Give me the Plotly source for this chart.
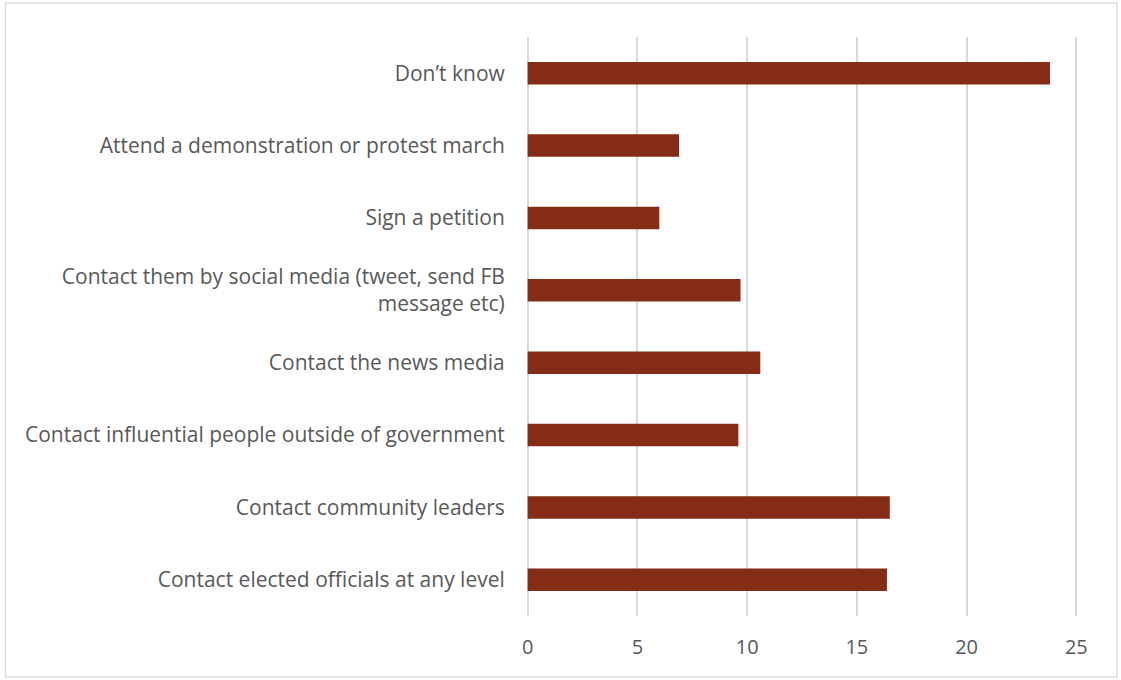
import plotly.graph_objects as go

categories = [
    "Contact elected officials at any level",
    "Contact community leaders",
    "Contact influential people outside of government",
    "Contact the news media",
    "Contact them by social media (tweet, send FB<br>message etc)",
    "Sign a petition",
    "Attend a demonstration or protest march",
    "Don’t know",
]
values = [16.37, 16.5, 9.6, 10.6, 9.7, 6.0, 6.9, 23.8]
x_ticks = [0, 5, 10, 15, 20, 25]

W, H = 1121, 680
XMIN, XMAX = -0.12, 25.12
px_per_unit = (1076.5 - 528) / 25.0
L = 528 - (0 - XMIN) * px_per_unit
Rpos = 528 + XMAX * px_per_unit
R = W - Rpos
T, B = 37, 64

fig = go.Figure(go.Bar(
    y=categories, x=values, orientation="h", base=0,
    marker=dict(color="#852C16", line=dict(width=0)),
))

pw = W - L - R
ph = H - T - B
fig.add_shape(type="rect", xref="paper", yref="paper",
              x0=(6 - L) / pw, x1=(1117 - L) / pw,
              y0=-(677 - T - ph) / ph, y1=1 + (T - 3) / ph,
              line=dict(color="#D9D9D9", width=1.3), layer="below")

fig.update_layout(
    width=W, height=H,
    margin=dict(l=L, r=R, t=T, b=B),
    paper_bgcolor="white", plot_bgcolor="white",
    bargap=0.69,
    font=dict(family="'Open Sans', Lato, sans-serif", size=21, color="#595959"),
    showlegend=False,
    xaxis=dict(range=[XMIN, XMAX], tickvals=x_ticks, showgrid=True,
               gridcolor="#D9D9D9", gridwidth=1.5, zeroline=False,
               showline=False, ticks="outside", ticklen=13,
               tickcolor="rgba(0,0,0,0)", tickfont=dict(size=20)),
    yaxis=dict(showgrid=False, zeroline=False, showline=False,
               ticks="outside", ticklen=15, tickcolor="rgba(0,0,0,0)"),
)

fig.write_html("out.html")
